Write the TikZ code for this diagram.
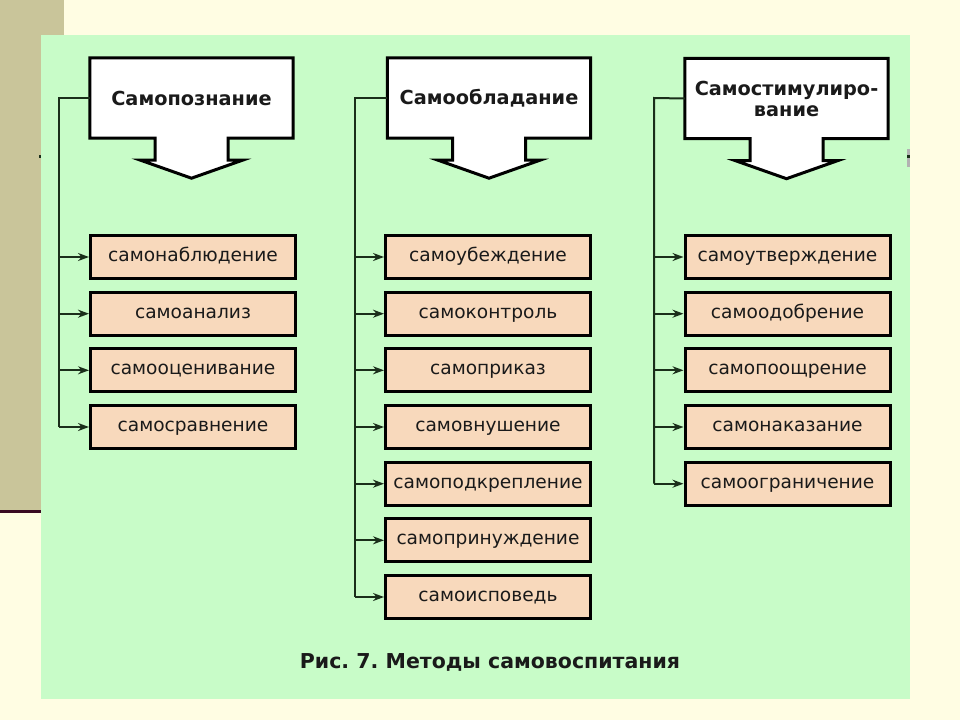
\documentclass[tikz,border=0pt]{standalone}
\usepackage{fontspec}
\setmainfont{DejaVu Sans}
\usetikzlibrary{calc,arrows.meta,backgrounds}
\definecolor{cream}{HTML}{FFFDE3}
\definecolor{olive}{HTML}{C9C59A}
\definecolor{panel}{HTML}{C8FCC8}
\definecolor{peach}{HTML}{F8D9BC}
\definecolor{maroon}{HTML}{3A0A22}
\definecolor{lineclr}{HTML}{1A2E1A}
\definecolor{txt}{HTML}{1A1A1A}
\frenchspacing
\begin{document}
\begin{tikzpicture}[x=1pt,y=-1pt,
  item/.style={draw=black, line width=3pt, fill=peach, minimum width=205pt, minimum height=43pt, inner sep=0pt, text height=10pt, text depth=1pt, font=\fontsize{18.6}{20}\selectfont, text=txt},
  head/.style={minimum width=203pt, minimum height=80pt, inner sep=0pt, font=\bfseries\fontsize{19.3}{21}\selectfont, align=center, text=txt},
  trunk/.style={line width=2pt, draw=lineclr},
  arr/.style={trunk, -{Stealth[length=11pt,width=8pt]}},
  headshape/.style={draw=black, line width=3pt, fill=white, line join=miter},
  caption/.style={font=\bfseries\fontsize{20.5}{22}\selectfont, text=txt}]
\useasboundingbox (0,0) rectangle (960,720);
\begin{scope}[on background layer]
  \fill[cream] (0,0) rectangle (960,720);
  \fill[olive] (0,0) rectangle (64,511);
  \fill[maroon] (0,510) rectangle (41,513);
  \fill[panel] (41,35) rectangle (910,699);
  \fill[lineclr] (39,155) rectangle (41,158);
  \fill[gray!60] (907,149) rectangle (910,167);
  \fill[lineclr] (907,155) rectangle (910,158);
\end{scope}

% headers
\node[head] (h1) at (191.5,98) {Самопознание};
\node[head] (h2) at (489,98) {Самообладание};
\node[head] (h3) at (786.5,98.5) {Самостимулиро-\\вание};

\begin{scope}[on background layer]
\foreach \h in {h1,h2,h3}{
  \draw[headshape] (\h.north west) -- (\h.north east) -- (\h.south east)
    -- ($(\h.south)+(36.5,0)$) -- ($(\h.south)+(36.5,22)$) -- ($(\h.south)+(51,22)$)
    -- ($(\h.south)+(0,40)$) -- ($(\h.south)+(-51,22)$) -- ($(\h.south)+(-36.5,22)$)
    -- ($(\h.south)+(-36.5,0)$) -- (\h.south west) -- cycle;
}
\end{scope}

% left column
\node[item] (a1) at (193,257) {самонаблюдение};
\node[item] (a2) at (193,313.7) {самоанализ};
\node[item] (a3) at (193,370.3) {самооценивание};
\node[item] (a4) at (193,427) {самосравнение};
% middle column
\node[item] (b1) at (488,257) {самоубеждение};
\node[item] (b2) at (488,313.7) {самоконтроль};
\node[item] (b3) at (488,370.3) {самоприказ};
\node[item] (b4) at (488,427) {самовнушение};
\node[item] (b5) at (488,483.7) {самоподкрепление};
\node[item] (b6) at (488,540.3) {самопринуждение};
\node[item] (b7) at (488,597) {самоисповедь};
% right column
\node[item] (c1) at (787.5,257) {самоутверждение};
\node[item] (c2) at (787.5,313.7) {самоодобрение};
\node[item] (c3) at (787.5,370.3) {самопоощрение};
\node[item] (c4) at (787.5,427) {самонаказание};
\node[item] (c5) at (787.5,483.7) {самоограничение};

% trunks
\coordinate (t1) at (59,98);
\coordinate (t2) at (355,98);
\coordinate (t3) at (654,98);
\draw[trunk] (h1.west) -- (t1) -- (t1 |- a4.west);
\draw[trunk] (h2.west) -- (t2) -- (t2 |- b7.west);
\draw[trunk] (h3.west) -- (t3) -- (t3 |- c5.west);
\foreach \n in {a1,a2,a3,a4} \draw[arr] (t1 |- \n.west) -- (\n.west);
\foreach \n in {b1,b2,b3,b4,b5,b6,b7} \draw[arr] (t2 |- \n.west) -- (\n.west);
\foreach \n in {c1,c2,c3,c4,c5} \draw[arr] (t3 |- \n.west) -- (\n.west);

\node[caption] (cap) at (490,662) {Рис. 7. Методы самовоспитания};
\end{tikzpicture}
\end{document}
